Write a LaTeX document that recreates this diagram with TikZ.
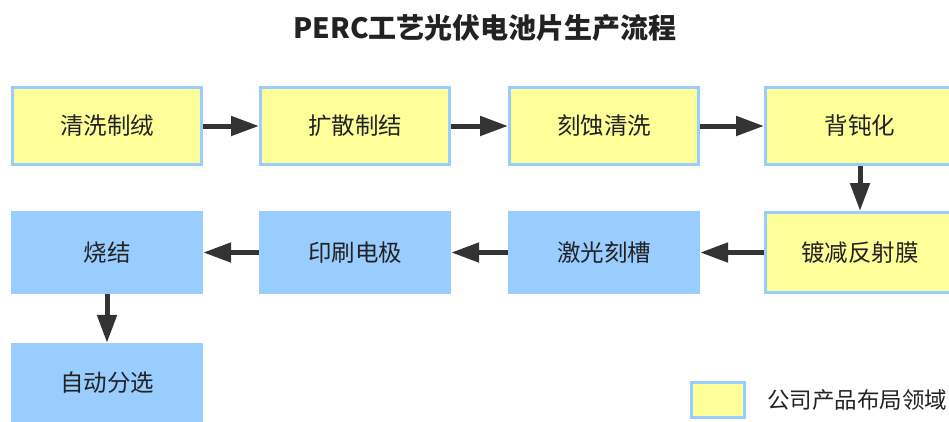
\documentclass[tikz,border=0pt]{standalone}
\usepackage{fontspec}
\setmainfont{Noto Sans CJK SC}
\usetikzlibrary{arrows.meta}
\definecolor{yel}{HTML}{FFFF99}
\definecolor{blu}{HTML}{99CCFF}
\definecolor{arr}{HTML}{333333}
\definecolor{txt}{HTML}{222222}
\tikzset{
  ybox/.style={rectangle, fill=yel, draw=blu, line width=3pt, minimum width=189pt, minimum height=77pt, inner sep=0pt, text=txt, font=\fontsize{23.5}{27}\selectfont},
  bbox/.style={rectangle, fill=blu, minimum width=192pt, minimum height=80pt, inner sep=0pt, text=txt, font=\fontsize{23.5}{27}\selectfont},
  flow/.style={draw=arr, line width=5pt, -{Triangle[length=28pt,width=19pt]}, shorten >=0pt, shorten <=0pt}
}
\begin{document}
\begin{tikzpicture}[x=1pt,y=-1pt]
\useasboundingbox (0,0) rectangle (949,421);
\node[font=\fontsize{28}{31}\selectfont\bfseries, text=txt] (title) at (485,28) {PERC工艺光伏电池片生产流程};
% row 1
\node[ybox] (a1) at (107,126) {清洗制绒};
\node[ybox] (a2) at (355,126) {扩散制结};
\node[ybox] (a3) at (604,126) {刻蚀清洗};
\node[ybox] (a4) at (860,126) {背钝化};
% row 2
\node[ybox, minimum height=80pt] (b4) at (860,252.5) {镀减反射膜};
\node[bbox, minimum height=83pt] (b3) at (604,252.5) {激光刻槽};
\node[bbox, minimum height=83pt] (b2) at (355,252.5) {印刷电极};
\node[bbox, minimum height=83pt] (b1) at (107,252.5) {烧结};
% row 3
\node[bbox] (c1) at (107,383) {自动分选};
% arrows
\draw[flow] (a1) -- (a2);
\draw[flow] (a2) -- (a3);
\draw[flow] (a3) -- (a4);
\draw[flow] (a4) -- (b4);
\draw[flow] (b4) -- (b3);
\draw[flow] (b3) -- (b2);
\draw[flow] (b2) -- (b1);
\draw[flow] (b1) -- (c1);
% legend
\node[rectangle, fill=yel, draw=blu, line width=3pt, minimum width=53pt, minimum height=35pt, inner sep=0pt] (leg) at (717.5,399.5) {};
\node[anchor=west, text=txt, font=\fontsize{22.5}{25}\selectfont, inner sep=0pt] (legt) at (767,400) {公司产品布局领域};
\end{tikzpicture}
\end{document}
